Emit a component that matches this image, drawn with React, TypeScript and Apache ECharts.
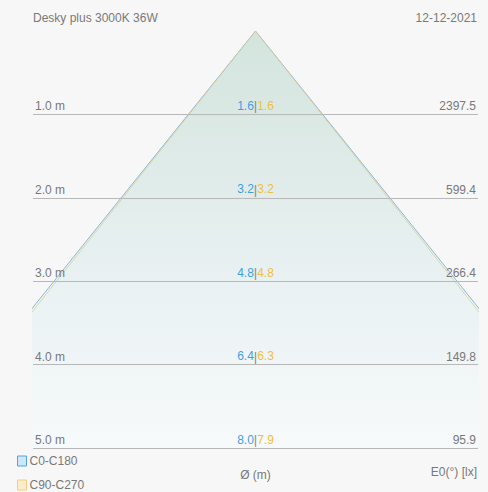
import React, { useEffect, useRef } from "react";
import * as echarts from "echarts";

const title = "Desky plus 3000K 36W";
const dateText = "12-12-2021";
const distances = [1, 2, 3, 4, 5];
const diamC0 = [1.6, 3.2, 4.8, 6.4, 8.0];
const diamC90 = [1.6, 3.2, 4.8, 6.3, 7.9];
const lux = ["2397.5", "599.4", "266.4", "149.8", "95.9"];
const seriesNames = ["C0-C180", "C90-C270"];
// cone edge points: [x (m), distance (m)]
const coneC0: [number, number][] = [[-4.0, 5], [0, 0], [4.0, 5]];
const coneC90: [number, number][] = [[-3.95, 5], [0, 0], [3.95, 5]];

export default function App() {
  const ref = useRef<HTMLDivElement>(null);
  useEffect(() => {
    if (!ref.current) return;
    const chart = echarts.init(ref.current, null, { renderer: "svg" });
    const font = "Arial, 'Liberation Sans', sans-serif";
    const fs = 12;
    const grey = "#797979";
    const markData: any[] = [];
    distances.forEach((d, i) => {
      markData.push({
        yAxis: d,
        label: {
          position: "insideStartTop",
          formatter: `${d.toFixed(1)} m`,
          distance: [2, 2],
        },
      });
      markData.push({
        yAxis: d,
        lineStyle: { color: "rgba(0,0,0,0)" },
        label: {
          position: "insideMiddleTop",
          formatter: `{b|${diamC0[i].toFixed(1)}}{s||}{o|${diamC90[i].toFixed(1)}}`,
          distance: 2,
        },
      });
      markData.push({
        yAxis: d,
        lineStyle: { color: "rgba(0,0,0,0)" },
        label: {
          position: "insideEndTop",
          formatter: lux[i],
          distance: [2, 2],
        },
      });
    });
    chart.setOption({
      animation: false,
      backgroundColor: "#f7f7f7",
      textStyle: { fontFamily: font },
      title: [
        {
          text: title,
          left: 33,
          top: 12,
          padding: 0,
          textStyle: { fontSize: fs, fontWeight: "normal", color: grey, fontFamily: font },
        },
        {
          text: dateText,
          right: 11,
          top: 12,
          padding: 0,
          textStyle: { fontSize: fs, fontWeight: "normal", color: grey, fontFamily: font },
        },
      ],
      legend: {
        orient: "vertical",
        left: 17,
        top: 455,
        padding: 0,
        itemWidth: 9,
        itemHeight: 10,
        itemGap: 12,
        icon: "rect",
        textStyle: { fontSize: fs, color: grey, fontFamily: font, padding: [0, 0, 0, -2] },
        data: [
          { name: seriesNames[0], itemStyle: { color: "#cfe6f8", borderColor: "#4ea6e6", borderWidth: 1 } },
          { name: seriesNames[1], itemStyle: { color: "#fbeccb", borderColor: "#f1cf7e", borderWidth: 1 } },
        ],
      },
      grid: { left: 33, right: 10, top: 31, bottom: 44, outerBoundsMode: "none" },
      xAxis: {
        type: "value",
        min: -2.65,
        max: 2.65,
        axisLine: { show: false },
        axisTick: { show: false },
        axisLabel: { show: false },
        splitLine: { show: false },
        name: "Ø (m)",
        nameLocation: "middle",
        nameGap: 21,
        nameTextStyle: { fontSize: fs, color: grey, fontFamily: font },
      },
      yAxis: {
        type: "value",
        inverse: true,
        min: 0,
        max: 5,
        show: false,
      },
      graphic: [
        {
          type: "text",
          right: 11,
          top: 466,
          style: { text: "E0(°) [lx]", fontSize: fs, fill: grey, fontFamily: font },
        },
      ],
      series: [
        {
          name: seriesNames[0],
          type: "line",
          data: coneC0,
          symbol: "none",
          lineStyle: { color: "#8cbad8", width: 1 },
          itemStyle: { color: "#4ea6e6" },
          z: 2,
          areaStyle: {
            origin: "end",
            opacity: 1,
            color: new echarts.graphic.LinearGradient(0, 0, 0, 1, [
              { offset: 0, color: "#d3e4dd" },
              { offset: 0.6, color: "#e9f1f2" },
              { offset: 1, color: "#f7fafb" },
            ]),
          },
          markLine: {
            silent: true,
            symbol: "none",
            animation: false,
            lineStyle: { color: "#b8b8b8", width: 1, type: "solid" },
            label: {
              fontSize: fs,
              color: grey,
              fontFamily: font,
              rich: {
                b: { color: "#3f9fe6", fontSize: fs, fontFamily: font },
                s: { color: "#8a8a8a", fontSize: 13, fontFamily: font },
                o: { color: "#f2bd45", fontSize: fs, fontFamily: font },
              },
            },
            data: markData,
          },
        },
        {
          name: seriesNames[1],
          type: "line",
          data: coneC90,
          symbol: "none",
          lineStyle: { color: "#d9cf98", width: 1, opacity: 0.8 },
          itemStyle: { color: "#f1cf7e" },
          z: 3,
        },
      ],
    });
    return () => chart.dispose();
  }, []);
  return (
    <div
      ref={ref}
      style={{ position: "fixed", left: 0, top: 0, width: 488, height: 492 }}
    />
  );
}
